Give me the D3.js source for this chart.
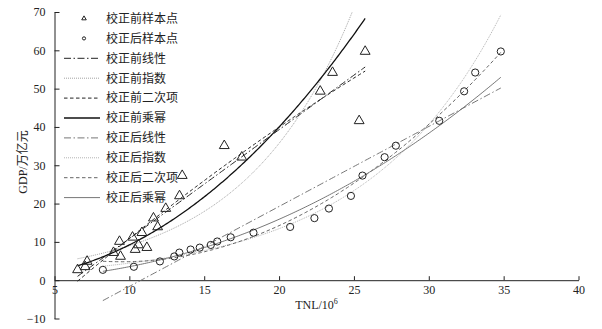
<!DOCTYPE html>
<html lang="zh">
<head>
<meta charset="UTF-8">
<title>校正前后 GDP-TNL 拟合</title>
<script src="https://d3js.org/d3.v7.min.js"></script>
<style>
    body { margin: 0; background: #fff; }
    text { font-family: "Liberation Serif", "DejaVu Serif", serif; fill: #222; }
    .cjk { font-family: "Noto Sans CJK SC", sans-serif; }
</style>
</head>
<body>
<svg width="602" height="329"></svg>
<script>
// GDP (万亿元), shared by both sample sets, sorted ascending
var gdp = [2.7, 3.5, 4.9, 6.2, 7.2, 8.0, 8.5, 9.2, 10.1, 11.2, 12.4,
           13.9, 16.2, 18.7, 22.0, 27.3, 32.1, 35.1, 41.6, 49.3, 54.2, 59.7];
// TNL/10^6 before correction (triangles)
var tnlBefore = [6.54, 7.05, 7.18, 9.41, 8.94, 10.39, 11.17, 10.61, 9.34, 10.21, 10.84,
                 11.89, 11.61, 12.43, 13.35, 13.53, 17.51, 16.34, 25.35, 22.75, 23.57, 25.75];
// TNL/10^6 after correction (circles)
var tnlAfter = [8.23, 10.30, 12.04, 13.00, 13.34, 14.09, 14.70, 15.44, 15.87, 16.77, 18.29,
                20.74, 22.36, 23.33, 24.80, 25.57, 27.05, 27.80, 30.70, 32.36, 33.10, 34.81];

var xTicks = [5, 10, 15, 20, 25, 30, 35, 40];
var yTicks = [-10, 0, 10, 20, 30, 40, 50, 60, 70];

var legendLabels = ["校正前样本点", "校正后样本点", "校正前线性", "校正前指数", "校正前二次项",
                    "校正前乘幂", "校正后线性", "校正后指数", "校正后二次项", "校正后乘幂"];

var svg = d3.select("svg");

var x = d3.scaleLinear().domain([5, 40]).range([54.5, 578.5]);
var y = d3.scaleLinear().domain([-10, 70]).range([318.5, 12]);

// ---- regression helpers (least squares, as a spreadsheet trendline would) ----
function linFit(xs, ys) {
    var n = xs.length, sx = d3.sum(xs), sy = d3.sum(ys),
        sxx = d3.sum(xs, d => d * d), sxy = d3.sum(xs, (d, i) => d * ys[i]);
    var b = (n * sxy - sx * sy) / (n * sxx - sx * sx);
    var a = (sy - b * sx) / n;
    return {a: a, b: b};
}
function linearF(xs, ys) { var c = linFit(xs, ys); return t => c.a + c.b * t; }
function expF(xs, ys) { var c = linFit(xs, ys.map(Math.log)); return t => Math.exp(c.a) * Math.exp(c.b * t); }
function powF(xs, ys) { var c = linFit(xs.map(Math.log), ys.map(Math.log)); return t => Math.exp(c.a) * Math.pow(t, c.b); }
function quadF(xs, ys) {
    var s = [0, 1, 2, 3, 4].map(k => d3.sum(xs, d => Math.pow(d, k)));
    var t = [0, 1, 2].map(k => d3.sum(xs, (d, i) => Math.pow(d, k) * ys[i]));
    var m = [[s[0], s[1], s[2], t[0]], [s[1], s[2], s[3], t[1]], [s[2], s[3], s[4], t[2]]];
    for (var i = 0; i < 3; i++) {
        for (var j = i + 1; j < 3; j++) {
            var f = m[j][i] / m[i][i];
            for (var k = i; k < 4; k++) m[j][k] -= f * m[i][k];
        }
    }
    var c = [0, 0, 0];
    for (var i = 2; i >= 0; i--) {
        var v = m[i][3];
        for (var k = i + 1; k < 3; k++) v -= m[i][k] * c[k];
        c[i] = v / m[i][i];
    }
    return u => c[0] + c[1] * u + c[2] * u * u;
}

var fits = [
    {f: linearF(tnlBefore, gdp), xs: tnlBefore, color: "#222", width: 1, dash: "7,2.5,1.5,2.5"},
    {f: expF(tnlBefore, gdp),    xs: tnlBefore, color: "#999", width: 0.9, dash: "1,1"},
    {f: quadF(tnlBefore, gdp),   xs: tnlBefore, color: "#222", width: 1, dash: "3.5,2.5"},
    {f: powF(tnlBefore, gdp),    xs: tnlBefore, color: "#111", width: 1.3, dash: null},
    {f: linearF(tnlAfter, gdp),  xs: tnlAfter,  color: "#666", width: 0.9, dash: "7,2.5,1.5,2.5"},
    {f: expF(tnlAfter, gdp),     xs: tnlAfter,  color: "#aaa", width: 0.9, dash: "1,1"},
    {f: quadF(tnlAfter, gdp),    xs: tnlAfter,  color: "#666", width: 1, dash: "3.5,2.5"},
    {f: powF(tnlAfter, gdp),     xs: tnlAfter,  color: "#777", width: 1, dash: null}
];

svg.append("clipPath").attr("id", "plot")
    .append("rect")
    .attr("x", x(5)).attr("y", y(70))
    .attr("width", x(40) - x(5)).attr("height", y(-10) - y(70));

// axes
var yAxis = svg.append("g")
    .attr("transform", "translate(" + x(5) + ",0)")
    .call(d3.axisLeft(y).tickValues(yTicks).tickSize(-5).tickSizeOuter(0).tickPadding(9));
var xAxis = svg.append("g")
    .attr("transform", "translate(0," + y(0) + ")")
    .call(d3.axisBottom(x).tickValues(xTicks).tickSize(-4).tickSizeOuter(0).tickPadding(5));
[xAxis, yAxis].forEach(function(g) {
    g.selectAll("path, line").attr("stroke", "#222");
    g.selectAll("text").attr("font-size", 12)
        .attr("font-family", "Liberation Serif, serif").attr("fill", "#222");
});

// fitted curves
var line = d3.line().x(d => x(d[0])).y(d => y(d[1]));
var curves = svg.append("g").attr("clip-path", "url(#plot)");
fits.forEach(function(s) {
    var lo = d3.min(s.xs), hi = d3.max(s.xs);
    var pts = d3.range(0, 201).map(i => lo + (hi - lo) * i / 200).map(t => [t, s.f(t)]);
    curves.append("path")
        .attr("d", line(pts))
        .attr("fill", "none")
        .attr("stroke", s.color)
        .attr("stroke-width", s.width)
        .attr("stroke-dasharray", s.dash);
});

// sample points
var tri = d3.symbol().type(d3.symbolTriangle).size(42);
svg.append("g").selectAll("path")
    .data(tnlBefore)
    .join("path")
    .attr("d", tri)
    .attr("transform", (d, i) => "translate(" + x(d) + "," + y(gdp[i]) + ")")
    .attr("fill", "none").attr("stroke", "#222").attr("stroke-width", 1);

svg.append("g").selectAll("circle")
    .data(tnlAfter)
    .join("circle")
    .attr("cx", d => x(d))
    .attr("cy", (d, i) => y(gdp[i]))
    .attr("r", 3.6)
    .attr("fill", "none").attr("stroke", "#222").attr("stroke-width", 1);

// legend
var legend = svg.append("g");
legendLabels.forEach(function(lab, i) {
    var cy = 18.5 + i * 19.9;
    if (i === 0) {
        legend.append("path")
            .attr("d", d3.symbol().type(d3.symbolTriangle).size(9))
            .attr("transform", "translate(84," + cy + ")")
            .attr("fill", "none").attr("stroke", "#222").attr("stroke-width", 1);
    } else if (i === 1) {
        legend.append("circle").attr("cx", 84).attr("cy", cy).attr("r", 1.6)
            .attr("fill", "none").attr("stroke", "#222").attr("stroke-width", 1);
    } else {
        var s = fits[i - 2];
        legend.append("line")
            .attr("x1", 64).attr("x2", 100).attr("y1", cy).attr("y2", cy)
            .attr("stroke", s.color).attr("stroke-width", s.width)
            .attr("stroke-dasharray", s.dash);
    }
    legend.append("text")
        .attr("class", "cjk")
        .attr("x", 106).attr("y", cy).attr("dy", "0.36em")
        .attr("font-size", 12)
        .text(lab);
});

// axis titles
svg.append("text")
    .attr("x", (x(5) + x(40)) / 2).attr("y", 309)
    .attr("text-anchor", "middle").attr("font-size", 12)
    .text("TNL/10")
    .append("tspan").attr("font-size", 8).attr("dy", -5).text("6");

var yt = svg.append("text")
    .attr("transform", "translate(27,162) rotate(-90)")
    .attr("text-anchor", "middle").attr("font-size", 12);
yt.append("tspan").text("GDP/");
yt.append("tspan").attr("class", "cjk").text("万亿元");
</script>
</body>
</html>
